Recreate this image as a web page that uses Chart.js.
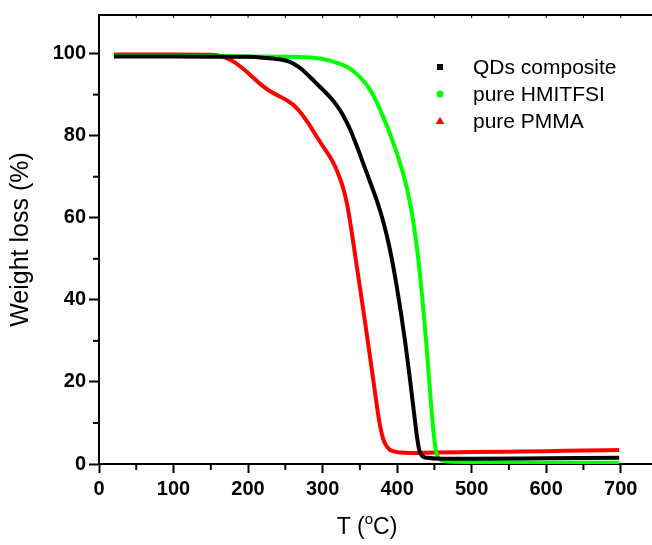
<!DOCTYPE html>
<html lang="en">

<head>
    <meta charset="UTF-8" />
    <title>TGA</title>
    <script src="https://cdn.jsdelivr.net/npm/chart.js"></script>
    <style>
        html, body { margin: 0; padding: 0; background: #fff; }
        #grafico { display: block; }
    </style>
</head>

<body>
    <canvas id="grafico" width="652" height="545"></canvas>

    <script>
        // dados (T em °C, perda de massa em %)
        const xTicks = [0, 100, 200, 300, 400, 500, 600, 700];
        const yTicks = [0, 20, 40, 60, 80, 100];

        const qdsT = [20, 100, 200, 225, 245, 256, 265, 272, 279, 286, 292, 301, 310, 319, 328, 337, 346, 355, 364, 372, 379, 386, 392, 399, 405, 411, 416, 420, 424, 427, 430, 434, 440, 460, 500, 600, 698];
        const qdsW = [99.3, 99.3, 99.2, 98.9, 98.5, 98.0, 97.1, 96.2, 95.0, 93.8, 92.7, 91.1, 89.4, 87.4, 84.8, 81.5, 77.4, 73.0, 68.6, 64.6, 60.6, 55.8, 50.8, 43.8, 37.0, 29.5, 22.5, 16.5, 10.5, 6.2, 3.2, 1.9, 1.5, 1.3, 1.3, 1.4, 1.5];

        const ilT = [20, 100, 200, 260, 290, 305, 315, 326, 337, 346, 355, 364, 372, 381, 388, 395, 402, 408, 413, 419, 424, 428, 431, 434, 437, 440, 443, 446, 449, 452, 455, 460, 470, 500, 600, 698];
        const ilW = [99.4, 99.4, 99.3, 99.2, 98.9, 98.5, 98.0, 97.3, 96.3, 95.0, 93.3, 91.1, 88.4, 84.7, 81.6, 78.2, 74.4, 70.8, 67.3, 62.0, 56.2, 50.6, 45.5, 40.0, 34.0, 27.5, 20.5, 13.5, 7.5, 3.3, 1.6, 0.9, 0.6, 0.5, 0.3, 0.3];

        const pmmaT = [20, 60, 100, 150, 165, 178, 190, 203, 215, 228, 240, 252, 262, 272, 282, 292, 302, 310, 316, 322, 328, 333, 338, 344, 350, 356, 362, 368, 373, 377, 381, 385, 390, 397, 404, 420, 450, 500, 550, 600, 650, 698];
        const pmmaW = [99.8, 99.8, 99.8, 99.7, 99.3, 98.3, 96.8, 94.8, 92.8, 91.0, 89.8, 88.6, 87.3, 85.3, 82.7, 79.8, 77.0, 74.8, 72.8, 70.2, 67.0, 63.2, 57.8, 50.5, 43.2, 35.8, 28.2, 20.5, 14.0, 9.4, 6.3, 4.6, 3.5, 3.0, 2.8, 2.7, 2.8, 2.9, 3.0, 3.1, 3.3, 3.4];

        function pontos(xs, ys) {
            return xs.map((x, i) => ({ x: x, y: ys[i] }));
        }

        const fonte = 'Liberation Sans, Arial, sans-serif';

        // ticks menores, moldura de cima, legenda e título do eixo x
        const extras = {
            id: 'extras',
            afterDraw(chart) {
                const ctx = chart.ctx;
                const area = chart.chartArea;
                const sx = chart.scales.x;
                const sy = chart.scales.y;
                ctx.save();
                ctx.strokeStyle = '#000';
                ctx.lineWidth = 2;

                // ticks menores
                for (let v = 50; v < sx.max; v += 100) {
                    const px = sx.getPixelForValue(v);
                    ctx.beginPath();
                    ctx.moveTo(px, area.bottom);
                    ctx.lineTo(px, area.bottom + 6);
                    ctx.stroke();
                }
                for (let v = 10; v < 100; v += 20) {
                    const py = sy.getPixelForValue(v);
                    ctx.beginPath();
                    ctx.moveTo(area.left, py);
                    ctx.lineTo(area.left - 6, py);
                    ctx.stroke();
                }

                // linha de cima com ticks para dentro
                ctx.beginPath();
                ctx.moveTo(area.left - 1, area.top);
                ctx.lineTo(area.right, area.top);
                ctx.stroke();
                ctx.lineWidth = 1;
                for (let v = 50; v < sx.max; v += 50) {
                    const px = sx.getPixelForValue(v);
                    ctx.beginPath();
                    ctx.moveTo(px, area.top);
                    ctx.lineTo(px, area.top + 3);
                    ctx.stroke();
                }

                // legenda
                const lx = area.left + 341;
                let ly = area.top + 52;
                ctx.font = '21px ' + fonte;
                ctx.textBaseline = 'middle';
                ctx.textAlign = 'left';
                chart.data.datasets.forEach((ds, i) => {
                    ctx.fillStyle = ds.borderColor;
                    if (i === 0) {
                        ctx.fillRect(lx - 3, ly - 3, 6, 6);
                    } else if (i === 1) {
                        ctx.beginPath();
                        ctx.arc(lx, ly, 3.5, 0, Math.PI * 2);
                        ctx.fill();
                    } else {
                        ctx.beginPath();
                        ctx.moveTo(lx, ly - 4);
                        ctx.lineTo(lx + 4.5, ly + 3);
                        ctx.lineTo(lx - 4.5, ly + 3);
                        ctx.closePath();
                        ctx.fill();
                    }
                    ctx.fillStyle = '#000';
                    ctx.fillText(ds.label, lx + 33, ly + 1);
                    ly += 27;
                });

                // título do eixo x: T (oC) com o sobrescrito
                const tx = 367;
                const ty = 528;
                ctx.font = '23px ' + fonte;
                const p1 = 'T (';
                const p3 = 'C)';
                const w1 = ctx.measureText(p1).width;
                const w3 = ctx.measureText(p3).width;
                ctx.font = '15px ' + fonte;
                const w2 = ctx.measureText('o').width;
                let x0 = tx - (w1 + w2 + w3) / 2;
                ctx.font = '23px ' + fonte;
                ctx.fillText(p1, x0, ty);
                ctx.font = '15px ' + fonte;
                ctx.fillText('o', x0 + w1, ty - 8);
                ctx.font = '23px ' + fonte;
                ctx.fillText(p3, x0 + w1 + w2, ty);
                ctx.restore();
            }
        };

        const config = {
            type: 'line',
            data: {
                datasets: [
                    { label: 'QDs composite', data: pontos(qdsT, qdsW), borderColor: '#000000' },
                    { label: 'pure HMITFSI', data: pontos(ilT, ilW), borderColor: '#00ff00' },
                    { label: 'pure PMMA', data: pontos(pmmaT, pmmaW), borderColor: '#ff0000' }
                ]
            },
            options: {
                responsive: false,
                animation: false,
                layout: { padding: { top: 15, right: 0, left: 0, bottom: 0 } },
                elements: {
                    point: { radius: 0 },
                    line: { borderWidth: 4, cubicInterpolationMode: 'monotone', fill: false }
                },
                plugins: { legend: { display: false }, tooltip: { enabled: false } },
                scales: {
                    x: {
                        type: 'linear',
                        min: 0,
                        max: 742,
                        afterBuildTicks: (s) => { s.ticks = xTicks.map(v => ({ value: v })); },
                        afterFit: (s) => { s.height = 81; },
                        border: { color: '#000', width: 2 },
                        grid: { drawOnChartArea: false, tickLength: 9, tickWidth: 2, tickColor: '#000' },
                        ticks: { color: '#000', padding: 4, maxRotation: 0, font: { family: fonte, size: 20, weight: 'bold' } }
                    },
                    y: {
                        min: 0,
                        max: 109.4,
                        afterBuildTicks: (s) => { s.ticks = yTicks.map(v => ({ value: v })); },
                        afterFit: (s) => { s.width = 99; },
                        border: { color: '#000', width: 2 },
                        grid: { drawOnChartArea: false, tickLength: 10, tickWidth: 2, tickColor: '#000' },
                        ticks: { color: '#000', padding: 3, font: { family: fonte, size: 20, weight: 'bold' } },
                        title: { display: true, text: 'Weight loss (%)', color: '#000', padding: { top: 6, bottom: 0 }, font: { family: fonte, size: 25 } }
                    }
                }
            },
            plugins: [extras]
        };

        const grafico = new Chart(document.getElementById('grafico'), config);
    </script>
</body>

</html>
